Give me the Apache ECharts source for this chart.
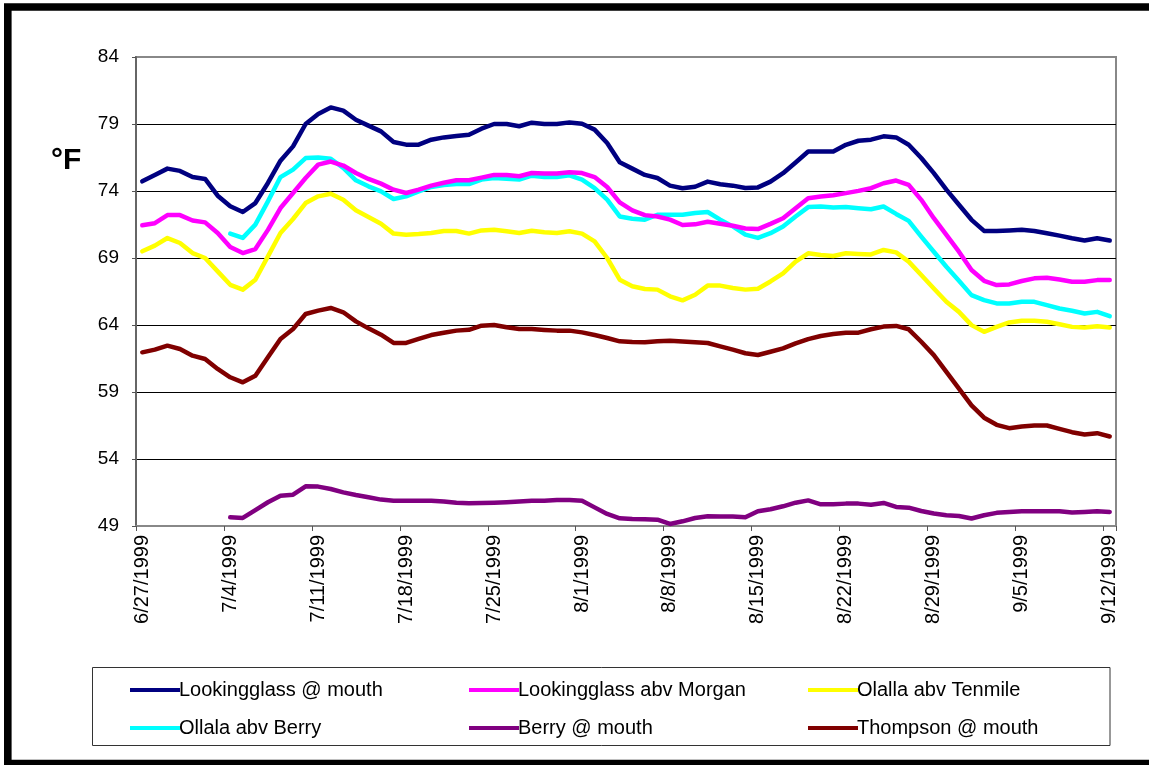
<!DOCTYPE html>
<html>
<head>
<meta charset="utf-8">
<script src="https://cdn.jsdelivr.net/npm/echarts@6/dist/echarts.min.js"></script>
<style>
html,body{margin:0;padding:0;background:#fff;}
#chart{width:1149px;height:765px;}
</style>
</head>
<body>
<div id="chart"></div>
<script>
var categories = [
'6/27/1999','6/28/1999','6/29/1999','6/30/1999',
'7/1/1999','7/2/1999','7/3/1999','7/4/1999','7/5/1999','7/6/1999','7/7/1999','7/8/1999','7/9/1999','7/10/1999',
'7/11/1999','7/12/1999','7/13/1999','7/14/1999','7/15/1999','7/16/1999','7/17/1999','7/18/1999','7/19/1999','7/20/1999',
'7/21/1999','7/22/1999','7/23/1999','7/24/1999','7/25/1999','7/26/1999','7/27/1999','7/28/1999','7/29/1999','7/30/1999','7/31/1999',
'8/1/1999','8/2/1999','8/3/1999','8/4/1999','8/5/1999','8/6/1999','8/7/1999','8/8/1999','8/9/1999','8/10/1999',
'8/11/1999','8/12/1999','8/13/1999','8/14/1999','8/15/1999','8/16/1999','8/17/1999','8/18/1999','8/19/1999','8/20/1999',
'8/21/1999','8/22/1999','8/23/1999','8/24/1999','8/25/1999','8/26/1999','8/27/1999','8/28/1999','8/29/1999','8/30/1999','8/31/1999',
'9/1/1999','9/2/1999','9/3/1999','9/4/1999','9/5/1999','9/6/1999','9/7/1999','9/8/1999','9/9/1999','9/10/1999','9/11/1999','9/12/1999'
];

var yTicks = { min: 49, max: 84, interval: 5 };

var lookingglassMouth = [74.72,75.2,75.67,75.5,75.04,74.9,73.65,72.86,72.43,73.1,74.6,76.26,77.33,79.0,79.75,80.24,80.0,79.32,78.88,78.45,77.66,77.46,77.46,77.83,78.0,78.1,78.2,78.65,79.0,79.0,78.83,79.1,79.0,79.0,79.12,79.02,78.58,77.58,76.14,75.67,75.2,74.97,74.4,74.2,74.32,74.7,74.5,74.4,74.22,74.27,74.7,75.33,76.13,76.95,76.95,76.95,77.45,77.75,77.83,78.08,78.0,77.45,76.46,75.33,74.1,72.97,71.85,71.02,71.02,71.05,71.1,71.02,70.85,70.67,70.47,70.3,70.47,70.3];

var lookingglassMorgan = [71.44,71.6,72.2,72.2,71.8,71.66,70.87,69.82,69.37,69.67,71.1,72.73,73.85,74.97,75.97,76.2,75.9,75.34,74.9,74.55,74.1,73.85,74.1,74.4,74.62,74.8,74.8,75.0,75.2,75.2,75.1,75.34,75.3,75.3,75.4,75.34,75.04,74.3,73.15,72.56,72.2,72.1,71.86,71.46,71.51,71.71,71.56,71.41,71.2,71.16,71.55,71.97,72.72,73.46,73.59,73.69,73.84,74.01,74.21,74.58,74.78,74.46,73.34,71.97,70.72,69.47,68.1,67.3,66.98,67.03,67.28,67.48,67.53,67.4,67.23,67.23,67.35,67.35];

var olallaTenmile = [69.5,69.92,70.49,70.12,69.37,69.0,68.0,67.0,66.64,67.38,69.12,70.87,71.91,73.1,73.6,73.8,73.35,72.56,72.06,71.56,70.82,70.74,70.79,70.87,71.02,71.02,70.82,71.06,71.11,70.99,70.87,71.04,70.92,70.87,70.99,70.82,70.24,69.0,67.38,66.89,66.69,66.64,66.14,65.84,66.26,66.94,66.94,66.76,66.64,66.71,67.25,67.85,68.73,69.35,69.22,69.15,69.35,69.3,69.27,69.6,69.42,68.73,67.73,66.73,65.73,64.98,63.99,63.49,63.86,64.19,64.31,64.31,64.24,64.06,63.86,63.81,63.91,63.81];

var ollalaBerry = [null,null,null,null,null,null,null,70.82,70.5,71.49,73.23,75.04,75.6,76.46,76.5,76.41,75.72,74.8,74.35,73.97,73.4,73.6,73.97,74.3,74.45,74.52,74.52,74.85,74.97,74.92,74.85,75.14,75.04,75.04,75.17,74.85,74.22,73.35,72.1,71.93,71.86,72.23,72.23,72.23,72.36,72.43,71.86,71.36,70.74,70.5,70.85,71.35,72.1,72.8,72.84,72.77,72.8,72.72,72.64,72.84,72.29,71.77,70.6,69.47,68.35,67.3,66.23,65.86,65.61,65.61,65.73,65.73,65.48,65.23,65.06,64.86,64.98,64.66];

var berryMouth = [null,null,null,null,null,null,null,49.65,49.6,50.19,50.77,51.26,51.34,51.96,51.94,51.76,51.51,51.31,51.14,50.97,50.89,50.89,50.89,50.89,50.83,50.73,50.69,50.72,50.74,50.77,50.82,50.89,50.89,50.94,50.94,50.89,50.39,49.9,49.57,49.52,49.5,49.47,49.15,49.35,49.6,49.72,49.7,49.7,49.65,50.1,50.25,50.47,50.74,50.91,50.62,50.62,50.67,50.67,50.59,50.72,50.42,50.37,50.12,49.93,49.8,49.75,49.56,49.8,49.98,50.05,50.1,50.1,50.1,50.1,50.0,50.05,50.1,50.05];

var thompsonMouth = [61.96,62.16,62.46,62.21,61.71,61.46,60.72,60.1,59.72,60.22,61.59,62.96,63.7,64.82,65.07,65.27,64.95,64.27,63.75,63.28,62.66,62.66,62.96,63.25,63.42,63.58,63.64,63.95,64.0,63.83,63.7,63.7,63.63,63.58,63.58,63.45,63.25,63.03,62.78,62.73,62.71,62.78,62.83,62.76,62.71,62.66,62.41,62.16,61.89,61.76,62.0,62.25,62.63,62.95,63.18,63.33,63.43,63.43,63.68,63.88,63.93,63.68,62.75,61.75,60.5,59.25,58.0,57.08,56.55,56.3,56.43,56.5,56.5,56.25,56.0,55.83,55.93,55.68];

var seriesNames = ['Lookingglass @ mouth','Lookingglass abv Morgan','Olalla abv Tenmile','Ollala abv Berry','Berry @ mouth','Thompson @ mouth'];
var seriesColors = ['#000080','#FF00FF','#FFFF00','#00FFFF','#800080','#800000'];
var seriesData = [lookingglassMouth, lookingglassMorgan, olallaTenmile, ollalaBerry, berryMouth, thompsonMouth];

var FONT = 'Liberation Sans, Arial, sans-serif';

var series = seriesNames.map(function (n, k) {
  return {
    name: n,
    type: 'line',
    data: seriesData[k],
    symbol: 'none',
    showSymbol: false,
    connectNulls: false,
    color: seriesColors[k],
    lineStyle: { color: seriesColors[k], width: 4.5, cap: 'round', join: 'round' },
    itemStyle: { color: seriesColors[k] },
    z: 10 - k
  };
});

function legendCol(names, left) {
  return {
    orient: 'vertical',
    left: left,
    top: 675,
    data: names,
    icon: 'rect',
    itemWidth: 50,
    itemHeight: 4,
    itemGap: 18,
    selectedMode: false,
    textStyle: { fontFamily: FONT, fontSize: 20, color: '#000', lineHeight: 20, padding: [0, 0, 0, -6] }
  };
}

var chart = echarts.init(document.getElementById('chart'), null, { renderer: 'canvas' });
chart.setOption({
  animation: false,
  backgroundColor: '#fff',
  title: {
    text: '°F',
    left: 46,
    top: 141,
    textStyle: { fontFamily: FONT, fontSize: 30, fontWeight: 'bold', color: '#000' }
  },
  graphic: [
    { type: 'rect', silent: true, z: 100, shape: { x: 7.8, y: 7, width: 1200, height: 756.6 }, style: { fill: 'none', stroke: '#000', lineWidth: 7.6 } },
    { type: 'rect', silent: true, z: 1, shape: { x: 92.5, y: 667.5, width: 1017.5, height: 78 }, style: { fill: 'none', stroke: '#333', lineWidth: 1 } }
  ],
  grid: { left: 136, top: 57, width: 980, height: 469, show: true, borderColor: '#888', borderWidth: 2, backgroundColor: 'transparent' },
  legend: [
    legendCol(['Lookingglass @ mouth', 'Ollala abv Berry'], 125),
    legendCol(['Lookingglass abv Morgan', 'Berry @ mouth'], 464),
    legendCol(['Olalla abv Tenmile', 'Thompson @ mouth'], 803)
  ],
  xAxis: {
    type: 'category',
    data: categories,
    boundaryGap: true,
    axisLine: { show: true, lineStyle: { color: '#888', width: 2 } },
    axisTick: { show: true, interval: 6, length: 5, lineStyle: { color: '#555', width: 1 } },
    axisLabel: { interval: 6, rotate: 90, margin: 9, fontFamily: FONT, fontSize: 20, color: '#000' },
    splitLine: { show: false }
  },
  yAxis: {
    type: 'value',
    min: yTicks.min,
    max: yTicks.max,
    interval: yTicks.interval,
    axisLine: { show: true, lineStyle: { color: '#666', width: 2 } },
    axisTick: { show: true, length: 4, lineStyle: { color: '#555', width: 1 } },
    axisLabel: { margin: 17, fontFamily: FONT, fontSize: 19, color: '#000' },
    splitLine: { show: true, lineStyle: { color: ['#888', '#000', '#000', '#000', '#000', '#000', '#000'], width: 1 } }
  },
  series: series
});
</script>
</body>
</html>
